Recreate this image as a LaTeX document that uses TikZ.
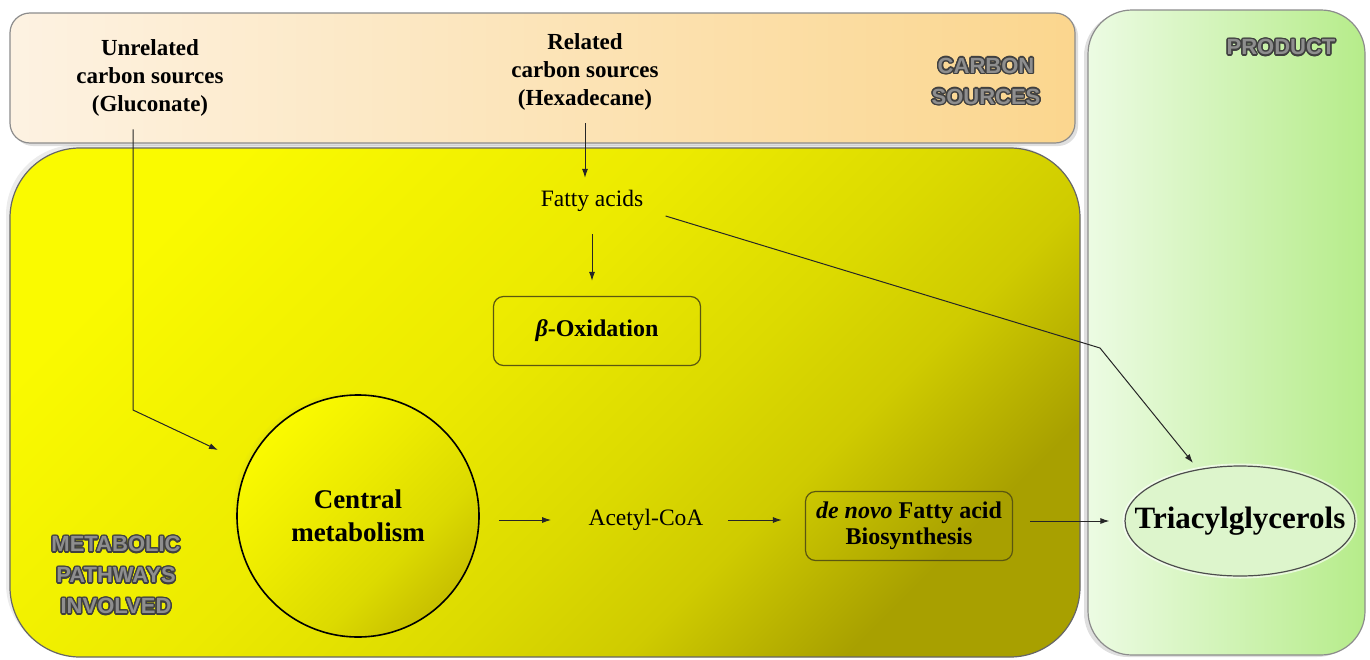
\documentclass[tikz,border=0pt]{standalone}
\usepackage{fontspec}
\setmainfont{Liberation Serif}
\newfontfamily\labelfont{Liberation Sans}
\usepackage[copies]{contour}
\usetikzlibrary{shapes.geometric,shadows,arrows.meta}

\definecolor{creamleft}{HTML}{FDF2E2}
\definecolor{orangeright}{HTML}{FBD68E}
\definecolor{yellowtop}{HTML}{FAFA00}
\definecolor{yellowmid}{HTML}{ECEA00}
\definecolor{yellowlow}{HTML}{DCDA00}
\definecolor{olivemid}{HTML}{CFCB00}
\definecolor{olivebottom}{HTML}{A8A000}
\definecolor{circlelow}{HTML}{C8C000}
\definecolor{greenleft}{HTML}{ECFBE3}
\definecolor{greenright}{HTML}{B6EC8A}
\definecolor{tagfill}{HTML}{DDF5CC}
\definecolor{boxline}{HTML}{5A5610}
\definecolor{labelgray}{HTML}{8E8E8E}

% diagonal fade of the pathway region and of the circle
\pgfdeclareverticalshading{yellowfade}{100bp}{color(0bp)=(olivebottom); color(25bp)=(olivebottom);
    color(28bp)=(olivebottom!70!olivemid); color(35bp)=(olivemid); color(43bp)=(yellowlow);
    color(55bp)=(yellowmid); color(75bp)=(yellowtop); color(100bp)=(yellowtop)}
\pgfdeclareverticalshading{circlefade}{100bp}{color(0bp)=(circlelow); color(25bp)=(circlelow);
    color(38bp)=(yellowlow); color(55bp)=(yellowmid); color(75bp)=(yellowtop); color(100bp)=(yellowtop)}

\contourlength{0.7pt}
\newcommand{\outlined}[1]{\contour{black!75}{\textcolor{labelgray}{#1}}}

\tikzstyle{region} = [font=\labelfont\bfseries\fontsize{11}{15.5}\selectfont, align=center]
\tikzstyle{source} = [font=\bfseries\fontsize{11.5}{14}\selectfont, align=center]
\tikzstyle{plain} = [font=\fontsize{11.75}{14}\selectfont, inner sep=0pt]
\tikzstyle{pathway} = [draw=boxline, line width=0.6pt, rounded corners=5pt, align=center,
    font=\bfseries\fontsize{12}{13}\selectfont, minimum width=103.5pt, minimum height=34.5pt]
\tikzstyle{flow} = [-{Latex[length=4.5pt,width=3pt]}, line width=0.5pt, black!85]

\begin{document}
\begin{tikzpicture}[x=0.5pt, y=-0.5pt]
\useasboundingbox (0,0) rectangle (1370,659);

% background regions
\shade[left color=creamleft, right color=orangeright, draw=black!45, line width=0.6pt,
    rounded corners=10pt, drop shadow={opacity=0.25, shadow xshift=1.5pt, shadow yshift=-1.5pt}]
    (10,13) rectangle (1075,143);
\shade[shading=yellowfade, shading angle=45, draw=black!60, line width=0.6pt, rounded corners=35pt,
    drop shadow={opacity=0.15, shadow xshift=-2pt, shadow yshift=1.5pt}]
    (10,148) rectangle (1080,657);
\shade[left color=greenleft, right color=greenright, draw=black!45, line width=0.6pt,
    rounded corners=22pt, drop shadow={opacity=0.25, shadow xshift=-2pt, shadow yshift=-1pt}]
    (1088,10) rectangle (1365,655);

% region labels
\node[region] (carbon) at (986,82) {\outlined{CARBON}\\\outlined{SOURCES}};
\node[region] (product) at (1281,48) {\outlined{PRODUCT}};
\node[region] (pathways) at (116,576) {\outlined{METABOLIC}\\\outlined{PATHWAYS}\\\outlined{INVOLVED}};

% carbon sources
\node[source] (unrel) at (150,78) {Unrelated\\carbon sources\\(Gluconate)};
\node[source] (rel) at (585,72) {Related\\carbon sources\\(Hexadecane)};

% metabolites and pathways
\node[plain] (fatty) at (592,201) {Fatty acids};
\node[pathway] (beta) at (597,331) {{\itshape β}-Oxidation};
\node[circle, draw=black, line width=0.8pt, minimum size=121pt, align=center,
    shading=circlefade, shading angle=45,
    circular drop shadow={opacity=0.3, shadow xshift=-2.5pt, shadow yshift=2pt, shadow scale=1},
    font=\bfseries\fontsize{13.5}{16.5}\selectfont] (central) at (358,516) {Central\\metabolism};
\node[plain] (acetyl) at (646,520) {Acetyl-CoA};
\node[pathway] (denovo) at (909,526) {\textit{de novo} Fatty acid\\Biosynthesis};
\node[ellipse, draw=black!70, line width=0.6pt, fill=tagfill, inner sep=0pt,
    minimum width=115pt, minimum height=55pt,
    preaction={draw=white, line width=2.5pt, opacity=0.6},
    font=\bfseries\fontsize{15.5}{18}\selectfont] (tag) at (1240,521) {\makebox[0pt]{Triacylglycerols}};

\coordinate (glubend) at (133,410);
\coordinate (tagbend) at (1100,348);

% connectors
\draw[flow, shorten <=3pt, shorten >=16.5pt] (unrel.south -| glubend) -- (glubend) -- (central);
\draw[flow, shorten <=3pt, shorten >=6pt] (rel.south) -- (rel.south |- fatty.north);
\draw[flow, shorten <=11pt, shorten >=7.5pt] (fatty.south) -- (fatty.south |- beta.north);
\draw[flow, shorten >=4pt] ([xshift=11pt,yshift=-7.5pt]fatty.east) -- (tagbend) -- (tag);
\draw[flow, shorten <=9.5pt, shorten >=18.5pt] (central.east |- acetyl) -- (acetyl.west);
\draw[flow, shorten <=12pt, shorten >=11.5pt] (acetyl.east) -- (acetyl -| denovo.west);
\draw[flow, shorten <=8.5pt, shorten >=7.5pt] (denovo.east |- tag) -- (tag.west);
\end{tikzpicture}
\end{document}
